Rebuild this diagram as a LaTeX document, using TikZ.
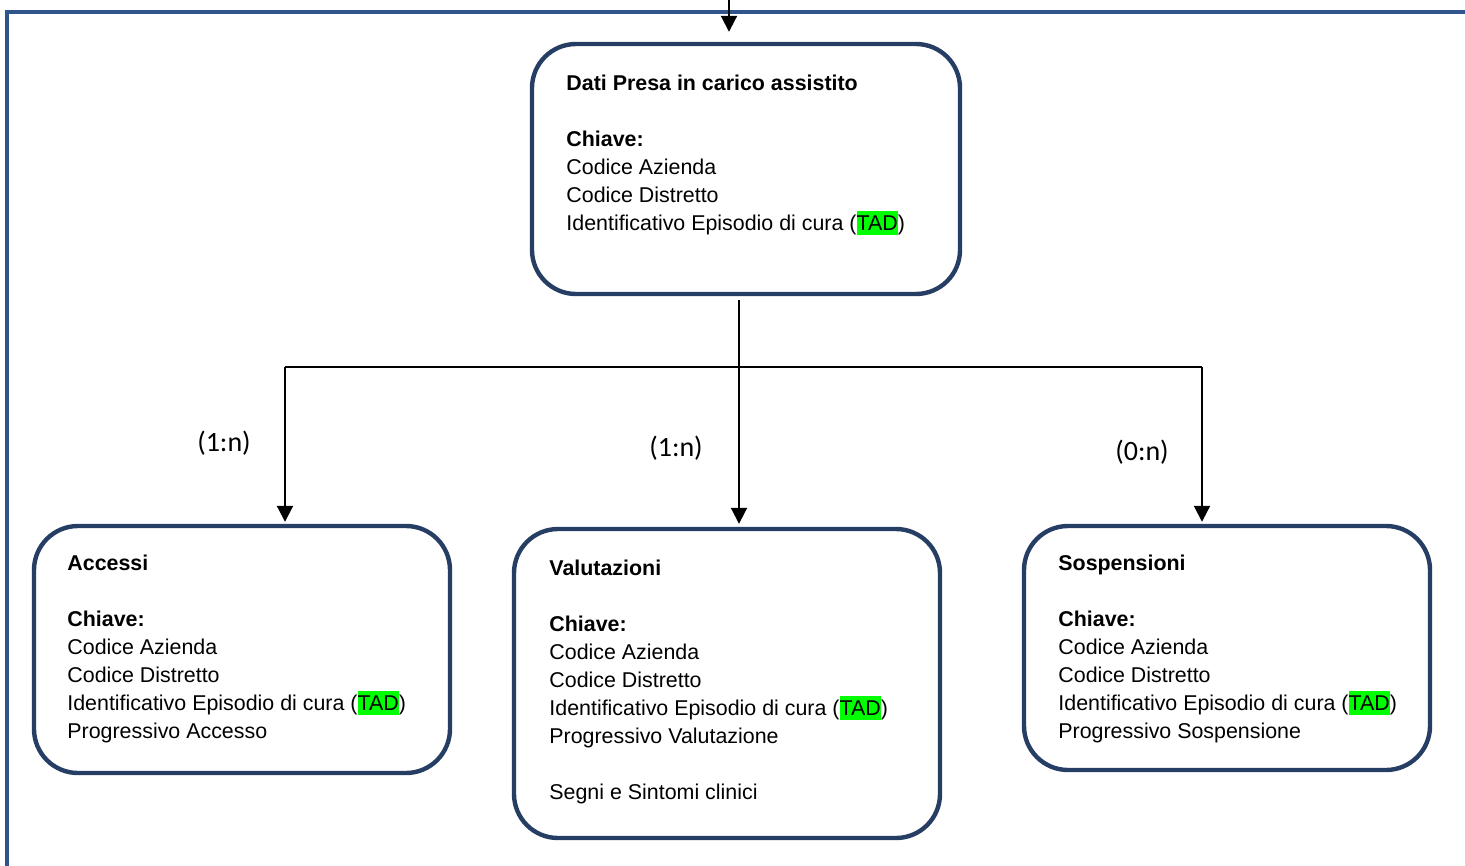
\documentclass[tikz,border=0pt]{standalone}
\usepackage{fontspec}
\setmainfont{Liberation Sans}
\newfontfamily\cardfont{Carlito}
\usetikzlibrary{positioning, arrows.meta, calc}
\definecolor{framecol}{RGB}{47,85,140}
\definecolor{boxcol}{RGB}{38,62,100}
\definecolor{tadgreen}{RGB}{0,255,0}
\newcommand{\Tad}{{\setlength{\fboxsep}{0pt}\colorbox{tadgreen}{\rule[-2pt]{0pt}{12pt}TAD}}}
\tikzset{
    entity/.style={draw=boxcol, line width=2.2pt, rounded corners=22pt},
    keytext/.style={anchor=north west, inner sep=0pt, align=left, font=\fontsize{10.7}{14}\selectfont},
    card/.style={font=\cardfont\fontsize{14}{16}\selectfont},
    link/.style={line width=1pt},
    linkarrow/.append style={link, -{Triangle[width=8pt, length=8pt]}},
}

\begin{document}
\begin{tikzpicture}[x=0.5pt, y=-0.5pt]
    \useasboundingbox (0,0) rectangle (1465,866);
    \draw[framecol, line width=2.2pt] (1470,12) -- (7,12) -- (7,870);

    \node[entity, minimum width=214pt, minimum height=125pt] (dati) at (746,169) {};
    \node[entity, minimum width=208pt, minimum height=123.5pt] (acc) at (242,649.5) {};
    \node[entity, minimum width=213pt, minimum height=154.5pt] (val) at (727,683.5) {};
    \node[entity, minimum width=203pt, minimum height=122pt] (sos) at (1227,648) {};

    \node[keytext] (datiText) at (566,75) {\textbf{Dati Presa in carico assistito}\\[14pt]
      \textbf{Chiave:}\\ Codice Azienda\\ Codice Distretto\\ Identificativo Episodio di cura (\Tad)};
    \node[keytext] (accText) at (67,555) {\textbf{Accessi}\\[14pt]
      \textbf{Chiave:}\\ Codice Azienda\\ Codice Distretto\\ Identificativo Episodio di cura (\Tad)\\
      Progressivo Accesso};
    \node[keytext] (valText) at (549,560) {\textbf{Valutazioni}\\[14pt]
      \textbf{Chiave:}\\ Codice Azienda\\ Codice Distretto\\ Identificativo Episodio di cura (\Tad)\\
      Progressivo Valutazione\\[14pt] Segni e Sintomi clinici};
    \node[keytext] (sosText) at (1058,555) {\textbf{Sospensioni}\\[14pt]
      \textbf{Chiave:}\\ Codice Azienda\\ Codice Distretto\\ Identificativo Episodio di cura (\Tad)\\
      Progressivo Sospensione};

    \coordinate (entry) at (729,-5);
    \coordinate (fork) at (739,367);
    \coordinate (forkL) at (285,367);
    \coordinate (forkR) at (1202,367);

    \draw[linkarrow, shorten >=5pt] (entry) -- (entry |- dati.north);
    \draw[link] (forkL) -- (forkR);
    \draw[linkarrow, shorten <=2pt, shorten >=1.5pt] (fork |- dati.south) -- (fork |- val.north);
    \draw[linkarrow, shorten >=1pt] (forkL) -- (forkL |- acc.north);
    \draw[linkarrow, shorten >=1pt] (forkR) -- (forkR |- sos.north);

    \node[card] (cardAcc) at (224,443) {(1:n)};
    \node[card] (cardVal) at (676,448) {(1:n)};
    \node[card] (cardSos) at (1142,452) {(0:n)};
\end{tikzpicture}
\end{document}
